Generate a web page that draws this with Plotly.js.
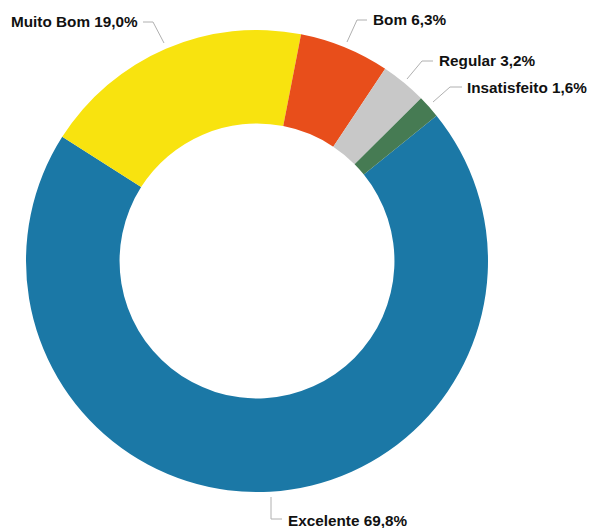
<!DOCTYPE html>
<html>
<head>
<meta charset="utf-8">
<script src="https://cdn.plot.ly/plotly-3.0.1.min.js"></script>
<style>html,body{margin:0;padding:0;background:#fff;}#chart{width:591px;height:528px;}</style>
</head>
<body>
<div id="chart"></div>
<script>
const labels = ["Excelente", "Muito Bom", "Bom", "Regular", "Insatisfeito"];
const values = [69.8, 19.0, 6.3, 3.2, 1.6];
const colors = ["#1b78a6", "#f8e30f", "#e84e1b", "#c8c8c8", "#467b53"];

const W = 591, H = 528;
const px = x => x / W;
const py = y => 1 - y / H;

// label placement (pixels): text anchor point and leader line points
const labelLayout = [
  {tx: 286, ty: 520, line: [[271, 497], [271, 519], [282, 519]]},
  {tx: 9,   ty: 22,  line: [[164, 43], [153, 22], [143, 22]]},
  {tx: 371, ty: 20,  line: [[347, 42], [357, 20], [367, 20]]},
  {tx: 437, ty: 61,  line: [[407, 79], [422, 61], [433, 61]]},
  {tx: 465, ty: 87,  line: [[433, 102], [450, 87], [462, 87]]}
];

const annotations = labels.map((lab, i) => ({
  xref: "paper", yref: "paper",
  x: px(labelLayout[i].tx), y: py(labelLayout[i].ty),
  xanchor: "left", yanchor: "middle",
  text: "<b>" + lab + " " + values[i].toFixed(1).replace(".", ",") + "%</b>",
  showarrow: false,
  font: {family: "Liberation Sans, Arial, sans-serif", size: 15.3, color: "#111"}
}));

const shapes = labelLayout.map(l => ({
  type: "path", xref: "paper", yref: "paper",
  path: l.line.map((p, j) => (j ? "L" : "M") + " " + px(p[0]) + " " + py(p[1])).join(" "),
  line: {color: "#b0b0b0", width: 1}
}));

const data = [{
  type: "pie",
  labels: labels,
  values: values,
  hole: 0.595,
  sort: false,
  direction: "clockwise",
  rotation: 51,
  textinfo: "none",
  hoverinfo: "label+value",
  marker: {colors: colors, line: {width: 0}},
  domain: {x: [px(26), px(488)], y: [py(492), py(30)]}
}];

const layout = {
  width: W, height: H,
  margin: {l: 0, r: 0, t: 0, b: 0},
  showlegend: false,
  paper_bgcolor: "#fff",
  annotations: annotations,
  shapes: shapes
};

Plotly.newPlot("chart", data, layout, {displayModeBar: false, staticPlot: true});
</script>
</body>
</html>
